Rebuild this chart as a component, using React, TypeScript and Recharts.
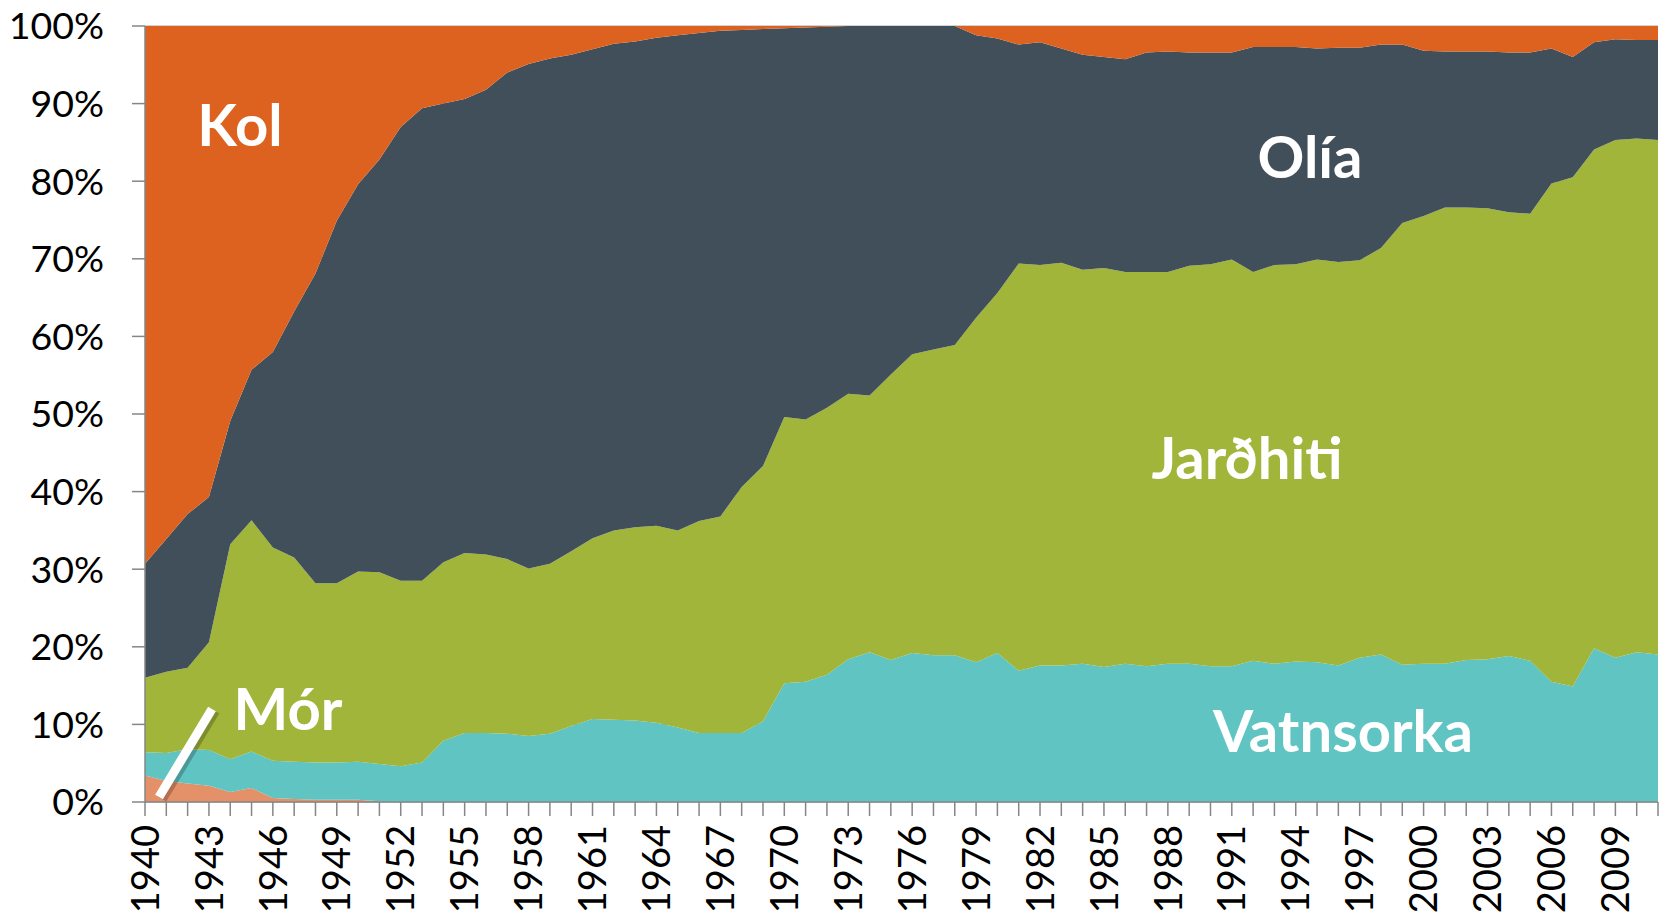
import { AreaChart, Area, XAxis, YAxis, CartesianGrid } from 'recharts';

// Share of primary energy use in Iceland by source, 1940-2011 (%)
const years = [
  1940, 1941, 1942, 1943, 1944, 1945, 1946, 1947, 1948, 1949,
  1950, 1951, 1952, 1953, 1954, 1955, 1956, 1957, 1958, 1959,
  1960, 1961, 1962, 1963, 1964, 1965, 1966, 1967, 1968, 1969,
  1970, 1971, 1972, 1973, 1974, 1975, 1976, 1977, 1978, 1979,
  1980, 1981, 1982, 1983, 1984, 1985, 1986, 1987, 1988, 1989,
  1990, 1991, 1992, 1993, 1994, 1995, 1996, 1997, 1998, 1999,
  2000, 2001, 2002, 2003, 2004, 2005, 2006, 2007, 2008, 2009,
  2010, 2011,
];

const mor = [
  3.4, 2.7, 2.4, 2.1, 1.3, 1.8, 0.5, 0.4, 0.3, 0.3,
  0.3, 0.1, 0, 0, 0, 0, 0, 0, 0, 0,
  0, 0, 0, 0, 0, 0, 0, 0, 0, 0,
  0, 0, 0, 0, 0, 0, 0, 0, 0, 0,
  0, 0, 0, 0, 0, 0, 0, 0, 0, 0,
  0, 0, 0, 0, 0, 0, 0, 0, 0, 0,
  0, 0, 0, 0, 0, 0, 0, 0, 0, 0,
  0, 0,
];

const vatnsorka = [
  3.0, 3.6, 4.4, 4.6, 4.2, 4.7, 4.8, 4.8, 4.8, 4.8,
  4.9, 4.8, 4.6, 5.1, 7.9, 8.9, 8.9, 8.8, 8.5, 8.8,
  9.8, 10.7, 10.6, 10.5, 10.2, 9.6, 8.9, 8.9, 8.9, 10.4,
  15.3, 15.5, 16.4, 18.4, 19.3, 18.3, 19.2, 18.9, 18.9, 18.0,
  19.2, 16.9, 17.6, 17.6, 17.8, 17.4, 17.8, 17.5, 17.8, 17.8,
  17.5, 17.5, 18.2, 17.8, 18.1, 18.0, 17.6, 18.6, 19.0, 17.7,
  17.8, 17.8, 18.3, 18.4, 18.8, 18.2, 15.5, 14.9, 19.8, 18.6,
  19.3, 19.0,
];

const jardhiti = [
  9.6, 10.5, 10.5, 13.9, 27.7, 29.8, 27.5, 26.3, 23.1, 23.1,
  24.5, 24.7, 23.9, 23.4, 23.0, 23.2, 23.0, 22.5, 21.6, 21.9,
  22.5, 23.3, 24.4, 24.9, 25.4, 25.4, 27.3, 27.9, 31.7, 32.9,
  34.3, 33.8, 34.4, 34.2, 33.1, 36.8, 38.5, 39.4, 40.0, 44.4,
  46.4, 52.5, 51.6, 51.9, 50.8, 51.4, 50.5, 50.8, 50.5, 51.3,
  51.8, 52.4, 50.1, 51.4, 51.2, 51.9, 52.0, 51.2, 52.4, 56.9,
  57.7, 58.8, 58.3, 58.1, 57.2, 57.6, 64.2, 65.6, 64.3, 66.7,
  66.2, 66.3,
];

const olia = [
  14.7, 17.1, 19.8, 18.7, 15.9, 19.4, 25.2, 31.7, 39.9, 46.7,
  49.9, 53.2, 58.5, 60.9, 59.1, 58.5, 59.9, 62.7, 65.0, 65.1,
  64.0, 63.0, 62.7, 62.6, 62.9, 63.8, 62.9, 62.6, 58.9, 56.3,
  50.1, 50.5, 49.1, 47.4, 47.6, 44.9, 42.3, 41.7, 41.1, 36.4,
  32.8, 28.2, 28.7, 27.6, 27.7, 27.2, 27.4, 28.3, 28.4, 27.5,
  27.3, 26.7, 29.0, 28.1, 28.0, 27.2, 27.6, 27.4, 26.2, 23.0,
  21.3, 20.1, 20.1, 20.2, 20.6, 20.8, 17.4, 15.5, 13.8, 13.0,
  12.7, 12.9,
];

const kol = [
  69.3, 66.1, 62.9, 60.7, 50.9, 44.3, 42.0, 36.8, 31.9, 25.1,
  20.4, 17.2, 13.0, 10.6, 10.0, 9.4, 8.2, 6.0, 4.9, 4.2,
  3.7, 3.0, 2.3, 2.0, 1.5, 1.2, 0.9, 0.6, 0.5, 0.4,
  0.3, 0.2, 0.1, 0, 0, 0, 0, 0, 0, 1.2,
  1.6, 2.4, 2.1, 2.9, 3.7, 4.0, 4.3, 3.4, 3.3, 3.4,
  3.4, 3.4, 2.7, 2.7, 2.7, 2.9, 2.8, 2.8, 2.4, 2.4,
  3.2, 3.3, 3.3, 3.3, 3.4, 3.4, 2.9, 4.0, 2.1, 1.7,
  1.8, 1.8,
];

const yTicks = [0, 0.1, 0.2, 0.3, 0.4, 0.5, 0.6, 0.7, 0.8, 0.9, 1];

const data = years.map((year, i) => ({
  year,
  mor: mor[i],
  vatnsorka: vatnsorka[i],
  jardhiti: jardhiti[i],
  olia: olia[i],
  kol: kol[i],
}));

const FONT = 'Lato, "Open Sans", sans-serif';
const AXIS = '#868686';

function YearTick(props: any) {
  const { x, y, payload, index } = props;
  const ty = y + 23;
  return (
    <g>
      <line x1={x} y1={y} x2={x} y2={y + 14} stroke={AXIS} strokeWidth={1.5} />
      {index % 3 === 0 && (
        <text
          x={x}
          y={ty}
          dy="0.36em"
          textAnchor="end"
          transform={`rotate(-90, ${x}, ${ty})`}
          fontSize={38}
          fontFamily={FONT}
          fill="#000"
        >
          {payload.value}
        </text>
      )}
    </g>
  );
}

const labelStyle = {
  fontFamily: FONT,
  fontWeight: 700,
  fontSize: 58,
  fill: '#fff',
} as const;

export default function App() {
  return (
    <div style={{ position: 'absolute', left: 0, top: 0, width: 1661, height: 915 }}>
      <AreaChart
        width={1661}
        height={915}
        data={data}
        stackOffset="expand"
        margin={{ top: 26, right: 3, left: 0, bottom: 0 }}
      >
        <CartesianGrid vertical={false} stroke="#a6a6a6" />
        <XAxis
          dataKey="year"
          interval={0}
          height={113}
          tick={<YearTick />}
          tickLine={false}
          tickSize={0}
          tickMargin={0}
          axisLine={{ stroke: AXIS, strokeWidth: 1.5 }}
        />
        <YAxis
          width={145}
          domain={[0, 1]}
          ticks={yTicks}
          tickFormatter={(v: number) => `${Math.round(v * 100)}%`}
          tick={{ fontSize: 37.5, fontFamily: FONT, fill: '#000' }}
          tickSize={13}
          tickMargin={28}
          tickLine={{ stroke: AXIS, strokeWidth: 1.5 }}
          axisLine={{ stroke: AXIS, strokeWidth: 1.5 }}
        />
        <Area type="linear" dataKey="mor" stackId="1" fill="#E49068" fillOpacity={1} stroke="none" isAnimationActive={false} />
        <Area type="linear" dataKey="vatnsorka" stackId="1" fill="#5FC4C2" fillOpacity={1} stroke="none" isAnimationActive={false} />
        <Area type="linear" dataKey="jardhiti" stackId="1" fill="#A0B53A" fillOpacity={1} stroke="none" isAnimationActive={false} />
        <Area type="linear" dataKey="olia" stackId="1" fill="#414F5B" fillOpacity={1} stroke="none" isAnimationActive={false} />
        <Area type="linear" dataKey="kol" stackId="1" fill="#DD621F" fillOpacity={1} stroke="none" isAnimationActive={false} />
      </AreaChart>
      <svg
        width={1661}
        height={915}
        style={{ position: 'absolute', left: 0, top: 0, pointerEvents: 'none' }}
      >
        <line x1={162} y1={799} x2={215} y2={711} stroke="#000" strokeOpacity={0.22} strokeWidth={10} />
        <line x1={159} y1={797} x2={212} y2={709} stroke="#fff" strokeWidth={9} />
        <text x={240} y={146} textAnchor="middle" {...labelStyle}>Kol</text>
        <text x={1310} y={178} textAnchor="middle" {...labelStyle}>Olía</text>
        <text x={1247} y={479} textAnchor="middle" {...labelStyle}>Jarðhiti</text>
        <text x={288} y={730} textAnchor="middle" {...labelStyle}>Mór</text>
        <text x={1343} y={752} textAnchor="middle" {...labelStyle}>Vatnsorka</text>
      </svg>
    </div>
  );
}
